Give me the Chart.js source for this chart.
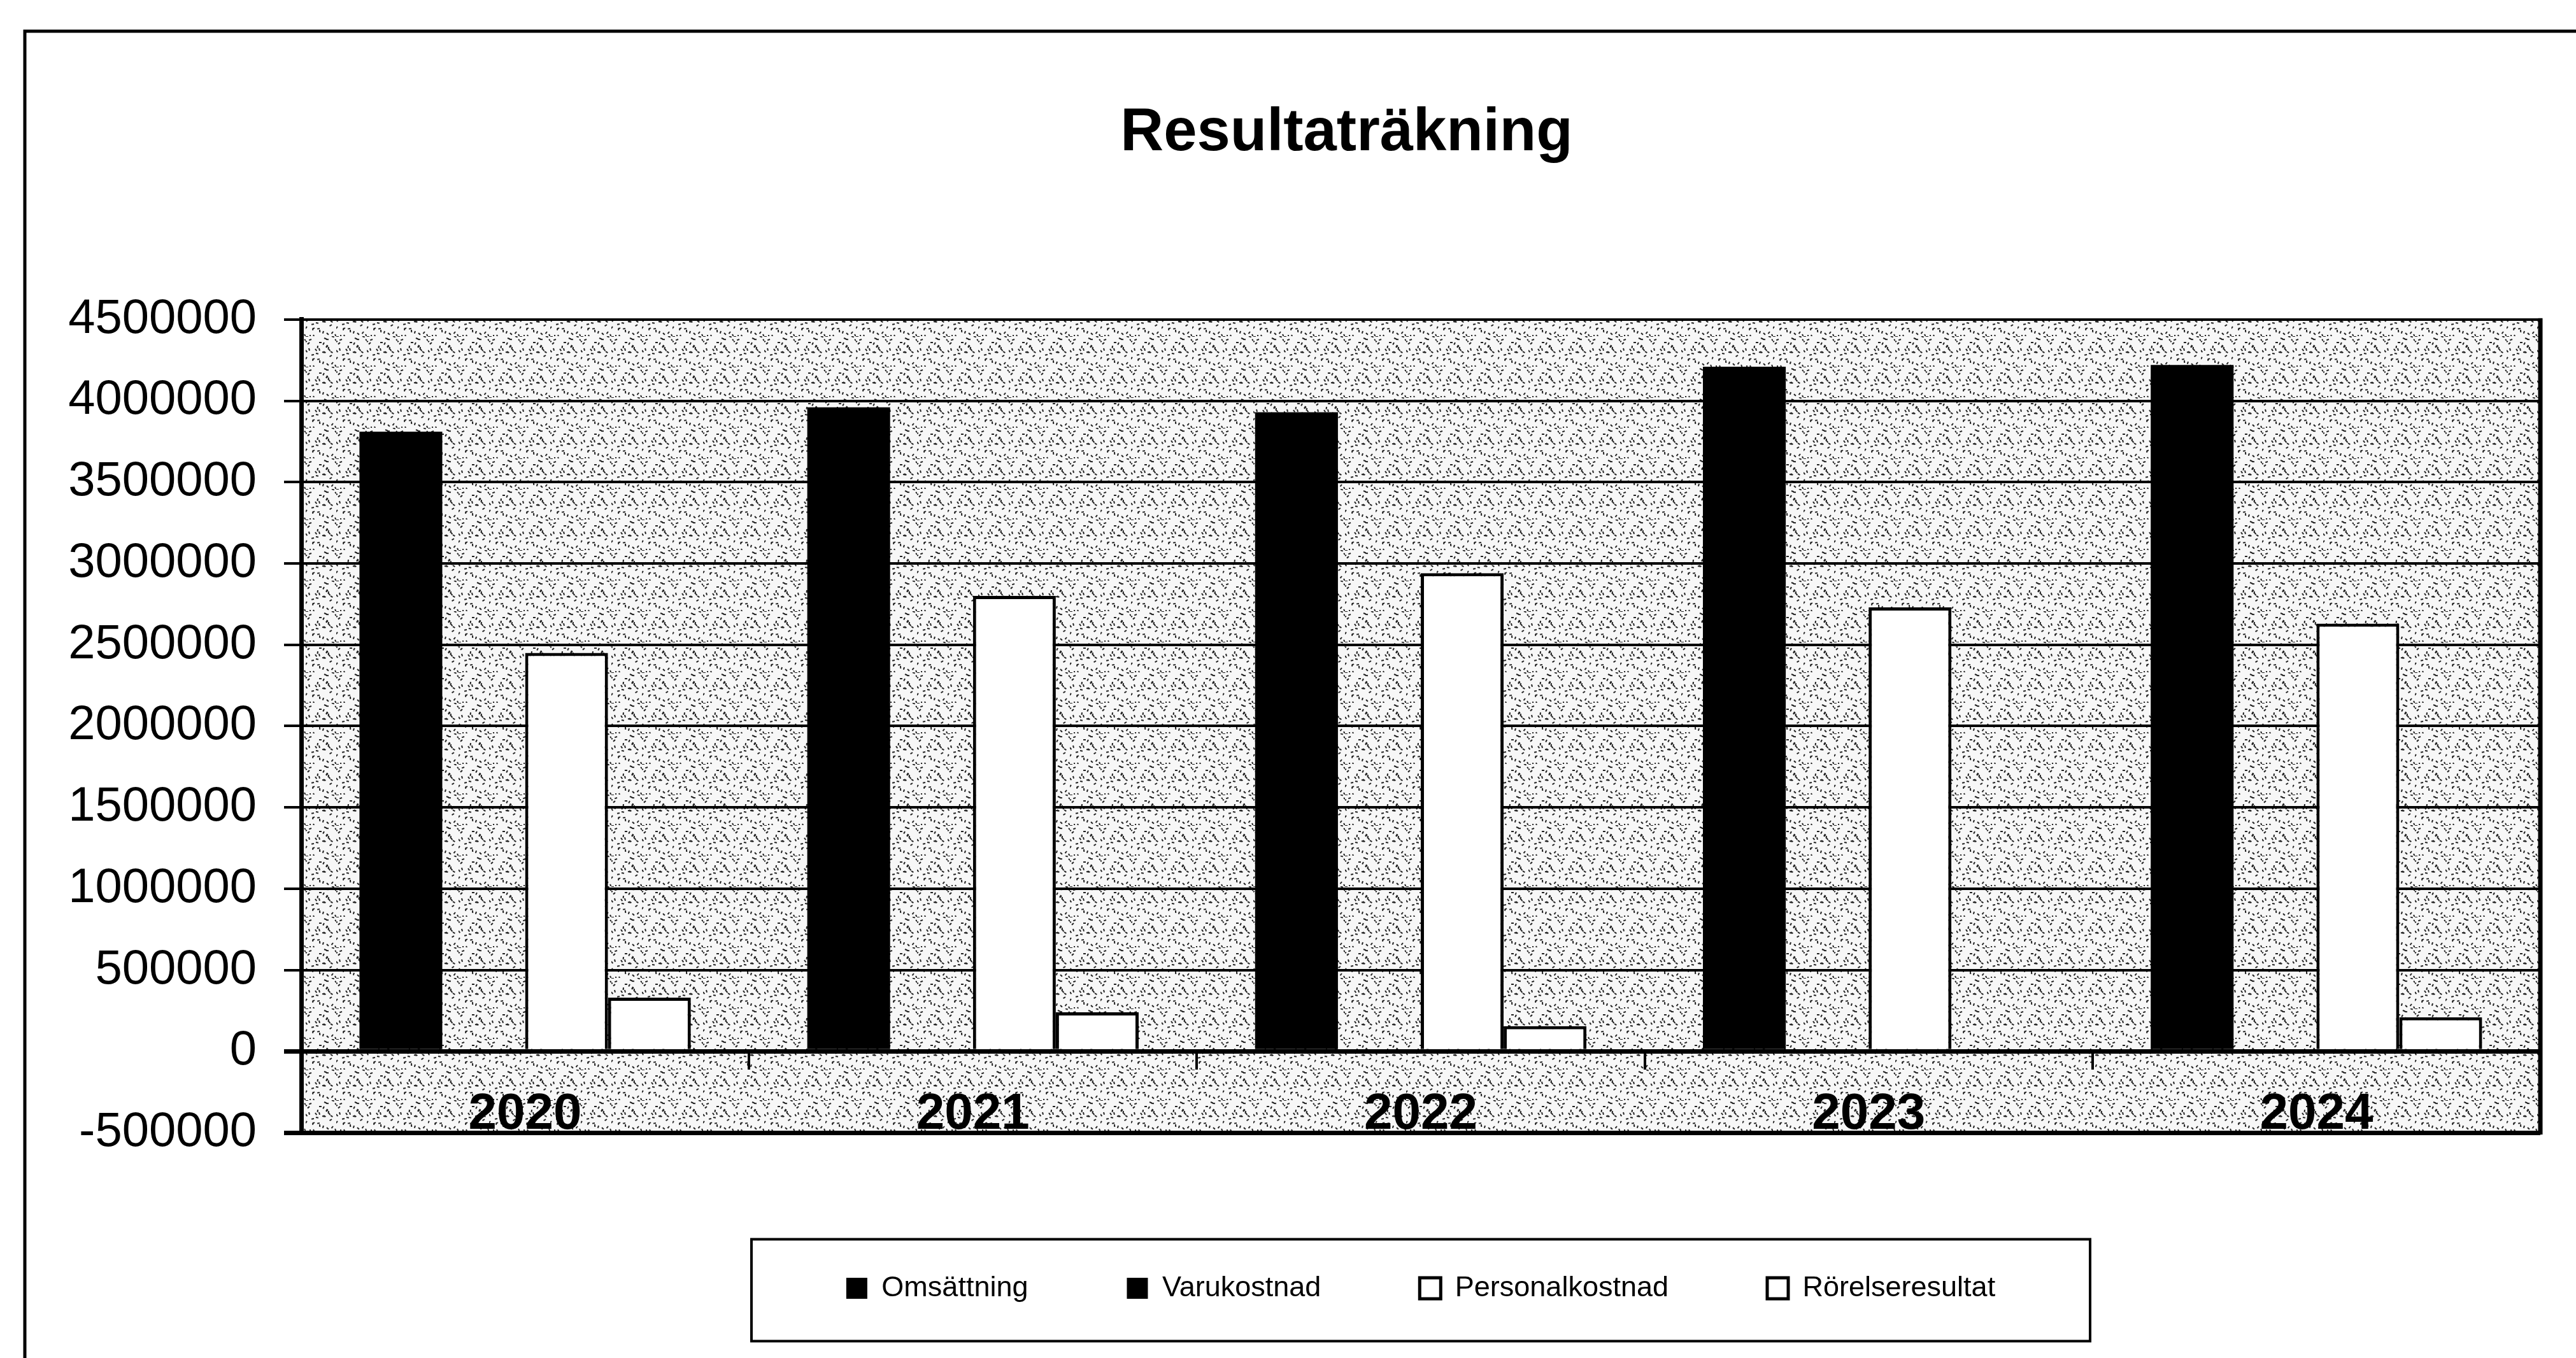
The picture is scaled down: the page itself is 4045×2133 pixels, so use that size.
<!DOCTYPE html>
<html>
<head>
<meta charset="utf-8">
<script src="https://cdn.jsdelivr.net/npm/chart.js@4/dist/chart.umd.min.js"></script>
<style>
  body { margin: 0; background: #fff; }
  canvas { display: block; }
</style>
</head>
<body>
<canvas id="resultat" width="4045" height="2133"></canvas>
<script>
// Data
const years = ["2020", "2021", "2022", "2023", "2024"];
const omsattning = [3810000, 3960000, 3930000, 4210000, 4220000];
const varukostnad = [0, 0, 0, 0, 0];
const personalkostnad = [2450000, 2800000, 2940000, 2730000, 2630000];
const rorelseresultat = [330000, 240000, 155000, 0, 210000];
const seriesNames = ["Omsättning", "Varukostnad", "Personalkostnad", "Rörelseresultat"];

const FONT = "'Liberation Sans', Arial, sans-serif";

// stippled plot background
function makePattern(ctx) {
  const t = document.createElement("canvas");
  t.width = t.height = 48;
  const g = t.getContext("2d");
  g.fillStyle = "#f7f7f7";
  g.fillRect(0, 0, 48, 48);
  g.strokeStyle = "#222";
  g.lineWidth = 2;
  for (let i = 0; i < 36; i++) {
    const x = (i * 29 + (i * i * 7) % 13) % 48;
    const y = (i * 17 + (i * i * 3) % 11) % 48;
    const a = ((i * 53) % 180) * Math.PI / 180;
    g.beginPath();
    g.moveTo(x, y);
    g.lineTo(x + 4 * Math.cos(a), y + 4 * Math.sin(a));
    g.stroke();
  }
  return ctx.createPattern(t, "repeat");
}

const framePlugin = {
  id: "frames",
  beforeDraw(chart) {
    const { ctx, chartArea: a } = chart;
    ctx.save();
    ctx.fillStyle = makePattern(ctx);
    ctx.fillRect(a.left, a.top, a.right - a.left, a.bottom - a.top);
    ctx.restore();
  },
  afterDatasetsDraw(chart) {
    const { ctx, chartArea: a } = chart;
    ctx.save();
    ctx.strokeStyle = "#000";
    ctx.lineWidth = 7;
    ctx.beginPath();
    ctx.moveTo(a.right, a.top - 2);
    ctx.lineTo(a.right, a.bottom + 3);
    ctx.stroke();
    ctx.restore();
  },
  afterDraw(chart) {
    const { ctx } = chart;
    ctx.save();
    ctx.strokeStyle = "#000";
    // outer frame (cut off on the right and bottom)
    ctx.lineWidth = 5;
    ctx.beginPath();
    ctx.moveTo(39, chart.height);
    ctx.lineTo(39, 49);
    ctx.lineTo(chart.width, 49);
    ctx.stroke();
    // legend box
    const hb = chart.legend.legendHitBoxes;
    if (hb && hb.length) {
      const left = Math.min(...hb.map(h => h.left));
      const right = Math.max(...hb.map(h => h.left + h.width));
      const cx = (left + right) / 2;
      const mid = hb[0].top + hb[0].height / 2;
      ctx.lineWidth = 4;
      ctx.strokeRect(cx - 1051, mid - 77, 2102, 160);
    }
    ctx.restore();
  }
};

const ctx = document.getElementById("resultat").getContext("2d");
new Chart(ctx, {
  type: "bar",
  data: {
    labels: years,
    datasets: [
      { label: seriesNames[0], data: omsattning, backgroundColor: "#000", borderColor: "#000", borderWidth: 0 },
      { label: seriesNames[1], data: varukostnad, backgroundColor: "#000", borderColor: "#000", borderWidth: 0 },
      { label: seriesNames[2], data: personalkostnad, backgroundColor: "#fff", borderColor: "#000", borderWidth: 5 },
      { label: seriesNames[3], data: rorelseresultat, backgroundColor: "#fff", borderColor: "#000", borderWidth: 5 }
    ]
  },
  options: {
    responsive: false,
    animation: false,
    devicePixelRatio: 1,
    categoryPercentage: 0.74,
    barPercentage: 1.0,
    layout: { padding: { left: 240, right: 56, top: 0, bottom: 77 } },
    scales: {
      x: {
        type: "category",
        position: { y: 0 },
        grid: {
          display: true,
          drawOnChartArea: false,
          drawTicks: true,
          tickLength: 25,
          color: "#000",
          lineWidth: 4,
          offset: true
        },
        border: { display: true, color: "#000", width: 7 },
        ticks: {
          color: "#000",
          padding: 27,
          maxRotation: 0,
          font: { family: FONT, size: 80, weight: "bold" }
        }
      },
      y: {
        min: -500000,
        max: 4500000,
        afterFit(scale) {
          scale.width = 233;
          // labels reach past the narrow axis box; don't clip them
          scale._computeLabelArea = () => undefined;
        },
        grid: {
          color: "#000",
          lineWidth: c => (c.tick && (c.tick.value === 0 || c.tick.value === -500000)) ? 7 : 4,
          tickLength: 27,
          drawTicks: true
        },
        border: { display: true, color: "#000", width: 7 },
        ticks: {
          stepSize: 500000,
          color: "#000",
          padding: 43,
          font: { family: FONT, size: 76 },
          callback: v => String(v)
        }
      }
    },
    plugins: {
      title: {
        display: true,
        text: "Resultaträkning",
        color: "#000",
        font: { family: FONT, size: 94, weight: "bold" },
        padding: { top: 154, bottom: 235 }
      },
      legend: {
        position: "bottom",
        fullSize: false,
        title: { display: true, text: " ", font: { size: 20 }, padding: { top: 21, bottom: 22 } },
        labels: {
          color: "#000",
          boxWidth: 33,
          boxHeight: 33,
          padding: 155,
          font: { family: FONT, size: 45 }
        }
      },
      tooltip: { enabled: false }
    }
  },
  plugins: [framePlugin]
});
</script>
</body>
</html>
